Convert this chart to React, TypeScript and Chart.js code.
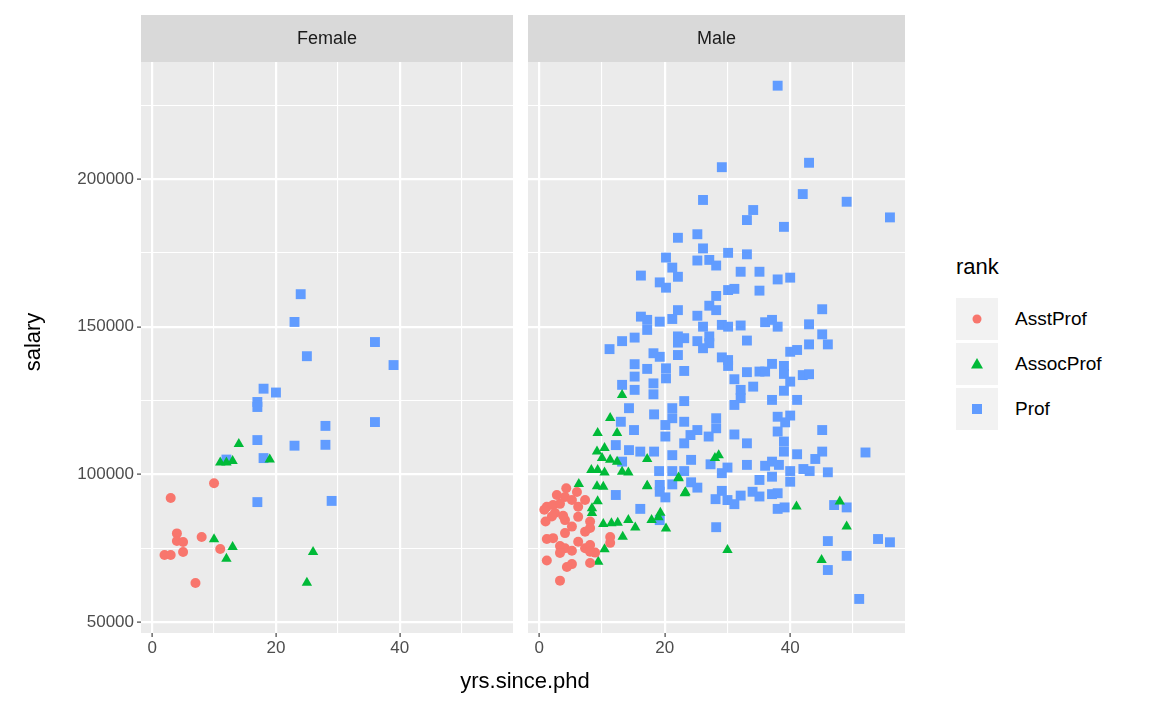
import { useEffect, useRef } from "react";
import Chart from "chart.js/auto";

// [yrs.since.phd, salary]
const femaleAsstProf: [number, number][] = [
  [2, 72700], [3, 72700], [3, 92000], [4, 80000], [4, 77400], [5, 77100], [5, 73700],
  [7, 63200], [8, 78800], [10, 97000], [11, 74700],
];
const femaleAssocProf: [number, number][] = [
  [14, 110300], [11, 104000], [12, 104000], [13, 104500], [19, 105000], [10, 78000],
  [13, 75400], [12, 71400], [26, 73700], [25, 63300],
];
const femaleProf: [number, number][] = [
  [24, 161000], [23, 151600], [36, 144800], [25, 140000], [39, 137000], [18, 129000],
  [20, 127700], [17, 124500], [17, 122800], [28, 116400], [36, 117700], [17, 111600],
  [23, 109700], [28, 110000], [12, 105000], [18, 105500], [17, 90600], [29, 91000],
];

const maleAsstProf: [number, number][] = [
  [4.3, 95300], [4.1, 92300], [5.2, 91300], [7.3, 91300], [1.2, 89000], [2.2, 89600],
  [3.3, 90000], [6.2, 89000], [2.5, 86900], [2, 85700], [4.1, 84500], [6.2, 85600],
  [8.1, 84000], [5.2, 82300], [7.3, 80600], [8.1, 81800], [4.1, 80100], [11.3, 78800],
  [11.3, 76800], [1.2, 78100], [2.2, 78400], [6.2, 77200], [3.3, 75700], [4.1, 75000],
  [5.2, 74100], [3.3, 73400], [7.3, 75000], [8.1, 76100], [8.9, 73500], [8.1, 73800],
  [1.2, 70800], [5.2, 69600], [4.4, 68600], [8.1, 70000], [3.3, 64000], [1, 84000],
  [0.8, 88000], [2.8, 93000], [6, 94000], [3.8, 86000],
];
const maleAssocProf: [number, number][] = [
  [13.2, 126900], [11.3, 119100], [9.3, 114000], [12.4, 114000], [9.2, 107700],
  [10.4, 108900], [10, 105500], [11.3, 104900], [12.4, 104300], [17.2, 105200],
  [8.3, 101500], [9.3, 101500], [10.4, 100600], [14.2, 100600], [13.2, 100900],
  [6.3, 96700], [9.2, 96000], [10.2, 95800], [17.2, 96000], [22.2, 98900], [23.2, 93600],
  [9.3, 90900], [8.4, 88500], [8.4, 86900], [10.2, 83200], [11.5, 83400], [12.5, 83600],
  [14.2, 84500], [15.3, 82000], [17.9, 84500], [19.3, 87000], [20.2, 81700],
  [13.3, 78900], [10.4, 74600], [9.4, 70400], [41, 89100], [49, 82300], [45, 71000],
  [30, 74400], [23.3, 93900], [17.2, 96100], [28.6, 106500], [22.2, 98700], [47.9, 90800],
  [28, 105500], [19, 85500],
];
const maleProf: [number, number][] = [
  [38, 231600], [29.1, 204000], [43, 205500], [42, 194900], [49, 192300], [55.9, 187000],
  [26.1, 192900], [34.1, 189500], [33.1, 186100], [39, 183800], [22.1, 180100],
  [25.2, 181300], [26.1, 176500], [20.2, 173400], [25.2, 172400], [27.1, 172600],
  [28.2, 170700], [30.1, 175000], [33.1, 174500], [21.2, 170000], [22.1, 166900],
  [16.2, 167300], [32.1, 168600], [35.1, 168600], [38, 166000], [40, 166600],
  [19.2, 165000], [20.2, 163200], [30.1, 162400], [31.1, 162800], [35.1, 162200],
  [28.2, 160400], [45.1, 155900], [22.1, 155600], [27.1, 157100], [28.2, 155600],
  [25.2, 153700], [16.2, 153400], [17.2, 152300], [19.2, 151700], [21.2, 152600],
  [26.1, 150000], [29.1, 150600], [30.1, 150000], [32.1, 150400], [36, 151500],
  [37.1, 152300], [38, 150000], [43, 150800], [45.1, 147400], [46, 144000], [43, 144000],
  [40, 141500], [41.1, 142100], [17.2, 148900], [13.2, 145100], [11.2, 142400],
  [15.2, 146300], [22.1, 146700], [23.1, 146100], [27.1, 146700], [25.2, 145100],
  [27.1, 144400], [22.1, 144600], [26.1, 142700], [33.1, 145300], [18.2, 141000],
  [19.2, 139800], [22.1, 140400], [29.1, 139600], [30.1, 138700], [15.2, 137300],
  [17.2, 135700], [20.2, 135900], [23.1, 135000], [30.1, 136700], [37.1, 137400],
  [39, 136700], [15.2, 133100], [18.2, 130800], [20.2, 132500], [33.1, 134600],
  [35.1, 134800], [36, 134800], [39, 134000], [42, 133600], [43, 133900], [40, 131400],
  [31.1, 132200], [32.1, 128600], [34.1, 129700], [39, 128300], [13.2, 130300],
  [15.2, 128600], [18.2, 127100],
  [14.3, 122400], [18.3, 120300], [21.2, 122400], [21.2, 119000], [23.1, 124800],
  [23.1, 117800], [13, 117800], [15.1, 115000], [20.1, 116700], [25.2, 115000],
  [28.2, 119000], [28.2, 115600], [31.1, 123500], [32.1, 125800], [37.1, 125200],
  [41.1, 125200], [38, 119500], [40, 119900], [39.2, 117600], [45.1, 115000],
  [38, 114500], [31.1, 113500], [33.1, 110500], [27, 112800], [20.1, 112800],
  [23.1, 110500], [24.1, 113300], [39, 111100], [39, 107700], [41.1, 106800],
  [44, 105200], [45.1, 107700], [52, 107400], [12.2, 109900], [14.3, 108200],
  [16.1, 107700], [18.3, 107700], [21.2, 106500], [24.2, 104900], [13.2, 104300],
  [19.1, 101100], [21.2, 101100], [23.1, 101100], [27.3, 103400], [29.1, 100400],
  [30, 102300], [33.1, 103200], [36, 102900], [37.1, 104300], [38.2, 103200],
  [37.1, 99200], [35.1, 98100], [40, 101100], [40, 97500], [42.1, 101800], [43.1, 101100],
  [46, 100700], [19.2, 96400], [19.2, 94100], [21.2, 96600], [24.2, 97300], [25.2, 95500],
  [29.1, 94400], [28.1, 91600], [30, 91300], [31.1, 89900], [32.1, 92800], [34, 94100],
  [35.1, 92500], [37.1, 93300], [38, 93600], [38, 88300], [39.1, 88800], [20.1, 92200],
  [12.2, 93000], [16.1, 88300], [19.2, 84500], [28.2, 82100], [47, 89600], [49, 88800],
  [46, 77400], [54, 78100], [55.9, 77000], [49, 72400], [46, 67600], [51, 57800],
];

const colours = ["#F8766D", "#00BA38", "#619CFF"];
const rankNames = ["AsstProf", "AssocProf", "Prof"];
const pointStyles = ["circle", "triangle", "rect"] as const;
const pointRadii = [5, 6, 7];

const yTicks = [50000, 75000, 100000, 125000, 150000, 175000, 200000, 225000];
const xTicks = [0, 10, 20, 30, 40, 50];

const FONT = "'Liberation Sans', Arial, sans-serif";

function Panel({ title, series, left, width, padLeft, showY }: {
  title: string;
  series: [number, number][][];
  left: number;
  width: number;
  padLeft: number;
  showY: boolean;
}) {
  const ref = useRef<HTMLCanvasElement | null>(null);
  useEffect(() => {
    if (!ref.current) return;
    const panelPlugin = {
      id: "panel",
      beforeDraw(chart: any) {
        const { ctx, chartArea: a } = chart;
        ctx.save();
        ctx.fillStyle = "#EBEBEB";
        ctx.fillRect(a.left, a.top, a.right - a.left, a.bottom - a.top);
        ctx.fillStyle = "#D9D9D9";
        ctx.fillRect(a.left, 15, a.right - a.left, a.top - 15);
        ctx.fillStyle = "#1A1A1A";
        ctx.font = `18px ${FONT}`;
        ctx.textAlign = "center";
        ctx.textBaseline = "middle";
        ctx.fillText(title, (a.left + a.right) / 2, (15 + a.top) / 2 + 1);
        ctx.restore();
      },
    };
    const chart = new Chart(ref.current, {
      type: "scatter",
      data: {
        datasets: series.map((pts, i) => ({
          label: rankNames[i],
          data: pts.map(([x, y]) => ({ x, y })),
          backgroundColor: colours[i],
          borderWidth: 0,
          pointStyle: pointStyles[i],
          pointRadius: pointRadii[i],
        })),
      },
      options: {
        animation: false,
        responsive: false,
        layout: { padding: { left: padLeft, right: -3, top: 62, bottom: 0 } },
        plugins: { legend: { display: false }, tooltip: { enabled: false } },
        scales: {
          x: {
            type: "linear",
            min: -1.8,
            max: 58.3,
            afterBuildTicks: (s: any) => { s.ticks = xTicks.map(value => ({ value })); },
            afterFit: (s: any) => { s.height = 78; },
            ticks: {
              callback: (v: any) => (v % 20 === 0 ? String(v) : ""),
              color: "#4D4D4D",
              font: { family: FONT, size: 17 },
              padding: 1,
              maxRotation: 0,
            },
            grid: {
              color: "#FFFFFF",
              lineWidth: (c: any) => (c.tick && c.tick.value % 20 === 0 ? 2.2 : 1.1),
              tickLength: 4,
              tickColor: (c: any) => (c.tick && c.tick.value % 20 === 0 ? "#333333" : "rgba(0,0,0,0)"),
              tickWidth: 1.1,
            },
            border: { display: false },
          },
          y: {
            type: "linear",
            min: 46275,
            max: 239620,
            afterBuildTicks: (s: any) => { s.ticks = yTicks.map(value => ({ value })); },
            afterFit: (s: any) => { s.width = showY ? 141 : 0; },
            ticks: {
              display: showY,
              callback: (v: any) => (v % 50000 === 0 ? String(v) : ""),
              color: "#4D4D4D",
              font: { family: FONT, size: 17 },
              padding: 3,
            },
            grid: {
              color: "#FFFFFF",
              lineWidth: (c: any) => (c.tick && c.tick.value % 50000 === 0 ? 2.2 : 1.1),
              drawTicks: showY,
              tickLength: 4,
              tickColor: (c: any) => (c.tick && c.tick.value % 50000 === 0 ? "#333333" : "rgba(0,0,0,0)"),
              tickWidth: 1.1,
            },
            border: { display: false },
          },
        },
      },
      plugins: [panelPlugin],
    });
    return () => chart.destroy();
  }, [title, series, padLeft, showY]);
  return (
    <canvas
      ref={ref}
      width={width}
      height={711}
      style={{ position: "absolute", left, top: 0, width, height: 711 }}
    />
  );
}

function LegendKey({ i }: { i: number }) {
  const c = colours[i];
  return (
    <div style={{ display: "flex", alignItems: "center", height: 45 }}>
      <svg width={42} height={42} style={{ background: "#F2F2F2" }}>
        {i === 0 && <circle cx={21} cy={21} r={4.5} fill={c} />}
        {i === 1 && <polygon points="21,15 27,25.5 15,25.5" fill={c} />}
        {i === 2 && <rect x={16} y={16} width={10} height={10} fill={c} />}
      </svg>
      <span style={{ marginLeft: 17, fontSize: 19 }}>{rankNames[i]}</span>
    </div>
  );
}

export default function App() {
  useEffect(() => {
    document.body.style.margin = "0";
  }, []);
  return (
    <div style={{ position: "relative", width: 1152, height: 711, background: "#fff", fontFamily: FONT, color: "#000" }}>
      <Panel title="Female" series={[femaleAsstProf, femaleAssocProf, femaleProf]} left={0} width={520} padLeft={0} showY />
      <Panel title="Male" series={[maleAsstProf, maleAssocProf, maleProf]} left={520} width={392} padLeft={8} showY={false} />
      <div style={{ position: "absolute", left: 3, top: 342, width: 60, textAlign: "center", transform: "translate(0px, -50%) rotate(-90deg)", fontSize: 22 }}>
        salary
      </div>
      <div style={{ position: "absolute", left: 325, width: 400, top: 668, textAlign: "center", fontSize: 22 }}>
        yrs.since.phd
      </div>
      <div style={{ position: "absolute", left: 956, top: 252 }}>
        <div style={{ fontSize: 22, height: 44, lineHeight: "30px" }}>rank</div>
        {[0, 1, 2].map(i => <LegendKey key={i} i={i} />)}
      </div>
    </div>
  );
}
